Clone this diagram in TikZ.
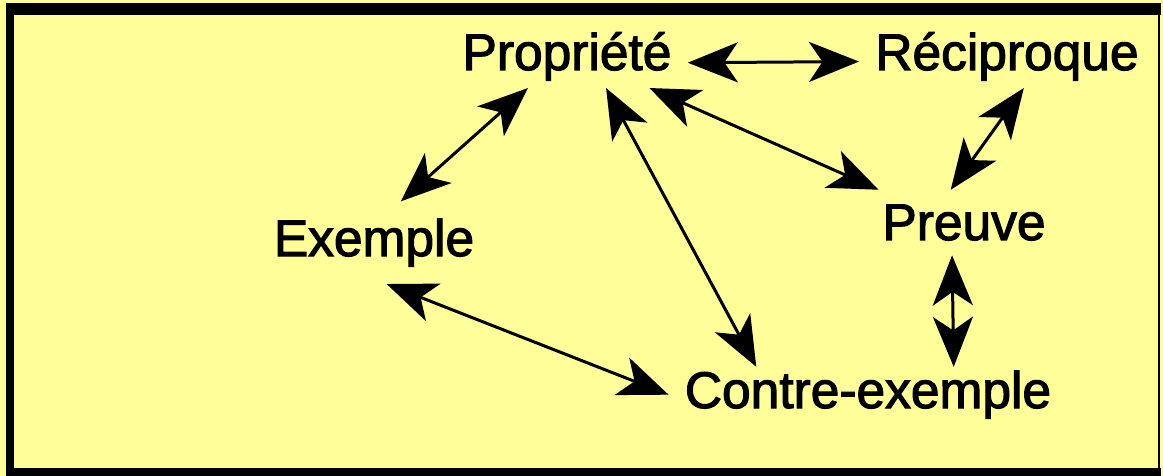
\documentclass[tikz,border=0pt]{standalone}
\usepackage{fontspec}
\setmainfont{Liberation Sans}
\newfontfamily\wordfont[FakeBold=2.2]{Liberation Sans}
\usetikzlibrary{arrows.meta}
\definecolor{notepad}{RGB}{255,254,153}

\begin{document}
\begin{tikzpicture}[x=0.02cm,y=-0.02cm,
  word/.style={anchor=base,inner xsep=0.32cm,inner ysep=0.14cm,font=\wordfont\fontsize{29.3}{35}\selectfont},
  link/.style={{Stealth[length=1cm,width=0.8cm,inset=0.27cm]}-{Stealth[length=1cm,width=0.8cm,inset=0.27cm]},line width=0.06cm}]
\useasboundingbox (0,0) rectangle (1163,476);

% Background and frame
\fill[notepad] (0,0) rectangle (1163,476);
\fill (6,3) rectangle (1161,15);
\fill (6,3) rectangle (14,476);
\fill (6,468) rectangle (1161,476);
\fill (1158,3) rectangle (1160,476);

% Words
\node[word] (prop) at (567,70) {Propriété};
\node[word] (reci) at (1007,70) {Réciproque};
\node[word,inner ysep=0.34cm] (exem) at (374,256) {Exemple};
\node[word,inner ysep=0.29cm] (preu) at (964,240) {Preuve};
\node[word,inner ysep=0.07cm] (contre) at (868,408) {Contre-exemple};

% Links
\draw[link] (prop.-3) -- (reci.182);
\draw[link] (prop.-141) -- (exem.57);
\draw[link] (prop.-39) -- (contre.166);
\draw[link] (prop.-21) -- (preu.159);
\draw[link] (reci.-62) -- (preu.112);
\draw[link] (preu.-110) -- (contre.18);
\draw[link] (exem.-73) -- (contre.west);

\end{tikzpicture}
\end{document}
